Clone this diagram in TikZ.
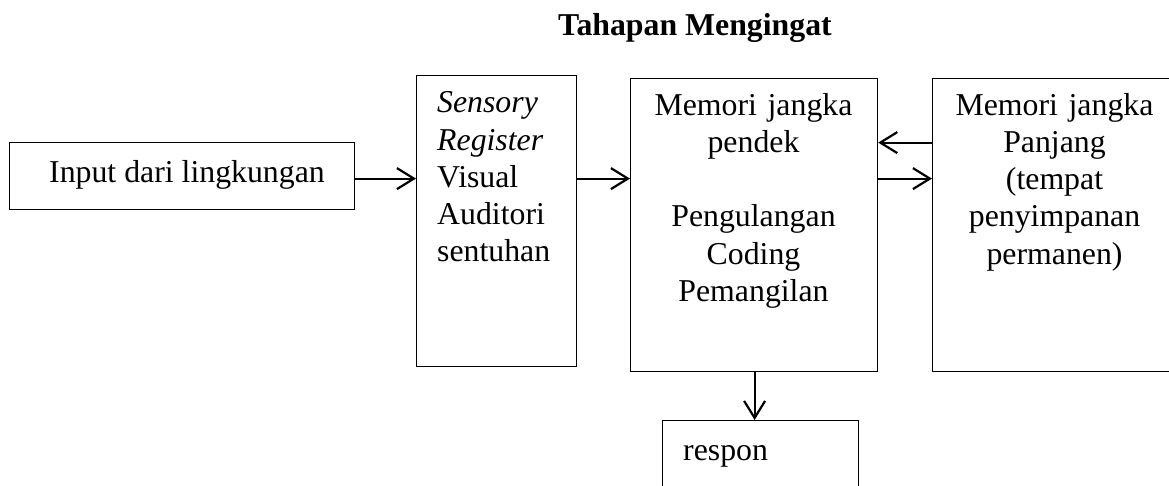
\documentclass[tikz,border=0pt]{standalone}
\usepackage{fontspec}
\setmainfont{Liberation Serif}
\usetikzlibrary{arrows.meta}
\tikzset{
  box/.style={draw=black, line width=1.2pt, inner sep=0pt, anchor=north west},
  txt/.style={inner sep=0pt, anchor=base, font=\fontsize{31.8}{37.3}\selectfont},
  flow/.style={line width=2.2pt, -{Straight Barb[length=17pt,width=21pt,line width=2.2pt]}}
}
\begin{document}
\begin{tikzpicture}[x=1pt,y=-1pt]
\clip (0,0) rectangle (1169,485);
\useasboundingbox (0,0) rectangle (1169,485);
% title
\node[txt, font=\fontsize{31.8}{37.3}\selectfont\bfseries] (title) at (695,35) {Tahapan Mengingat};
% boxes
\node[box, minimum width=345pt, minimum height=67pt] (in) at (9,142) {};
\node[box, minimum width=160pt, minimum height=291pt] (sens) at (416,75) {};
\node[box, minimum width=247pt, minimum height=293pt] (stm) at (630,78) {};
\node[box, minimum width=245pt, minimum height=293pt] (ltm) at (932,78) {};
\node[box, minimum width=196pt, minimum height=90pt] (resp) at (662,420) {};
% texts
\node[txt, anchor=base west] (intext) at (49,182) {Input dari lingkungan};
\node[txt, anchor=base west, text width=150pt, align=left] (senstext) at (437,112.7)
  {\textit{Sensory}\\\textit{Register}\\Visual\\Auditori\\sentuhan};
\node[txt, text width=247pt, align=center] (stmtext) at (753.5,115)
  {Memori jangka\\pendek\\[37.3pt]Pengulangan\\Coding\\Pemangilan};
\node[txt, text width=245pt, align=center] (ltmtext) at (1054.5,115)
  {Memori jangka\\Panjang\\(tempat\\penyimpanan\\permanen)};
\node[txt, anchor=base west] (resptext) at (683,460) {respon};
% connectors
\draw[flow] ([yshift=-2.5pt]in.east) -- ([yshift=-2.5pt]in.east -| sens.west);
\draw[flow] ([yshift=-2.5pt]in.east -| sens.east) -- ([yshift=-2.5pt]in.east -| stm.west);
\draw[flow] ([yshift=-2.5pt]in.east -| stm.east) -- ([yshift=-2.5pt]in.east -| ltm.west);
\draw[flow] ([yshift=33.5pt]in.east -| ltm.west) -- ([yshift=33.5pt]in.east -| stm.east);
\draw[flow] ([xshift=0.5pt]stm.south) -- ([xshift=0.5pt]stm.south |- resp.north);
\end{tikzpicture}
\end{document}
